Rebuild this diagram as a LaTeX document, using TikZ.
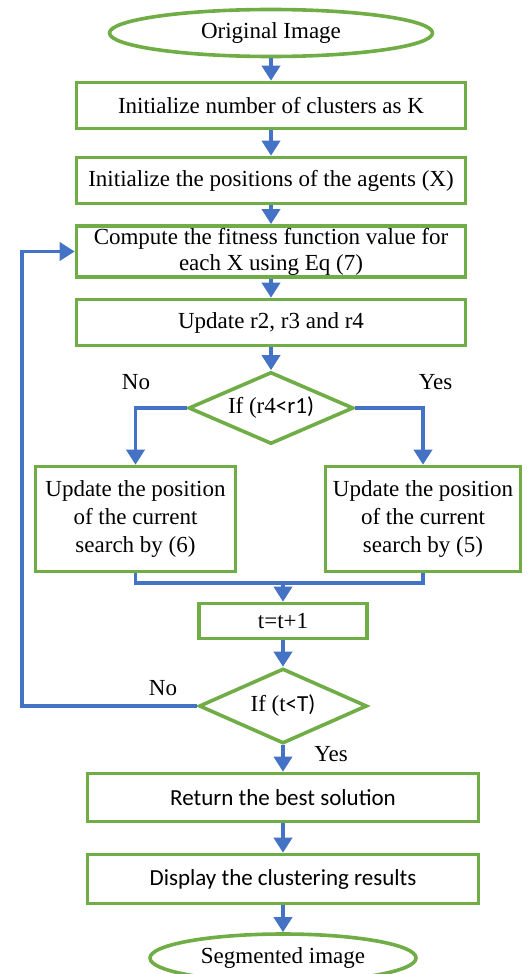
\documentclass[tikz,border=0pt]{standalone}
\usepackage{fontspec}
\setmainfont{Liberation Serif}
\setsansfont{Carlito}
\usetikzlibrary{arrows.meta,positioning,shapes.geometric}
\usepackage{xcolor}
\definecolor{boxgreen}{HTML}{70AD47}
\definecolor{linkblue}{HTML}{4472C4}
\newcommand{\flowfont}{\fontsize{23}{26}\selectfont}

\begin{document}
\begin{tikzpicture}[x=1pt, y=-1pt, every node/.style={font=\flowfont}]
\tikzset{proc/.style={draw=boxgreen, line width=3.6pt, rectangle, minimum width=389pt, minimum height=46pt, inner sep=2pt, align=center}}
\tikzset{term/.style={draw=boxgreen, line width=3.6pt, ellipse, inner sep=0pt}}
\tikzset{decide/.style={draw=boxgreen, line width=3.6pt, diamond, aspect=2.2, inner sep=0pt, minimum width=165pt, minimum height=72pt}}
\tikzset{link/.style={draw=linkblue, line width=3.6pt}}
\tikzset{arr/.style={link, -{Triangle[width=18pt,length=15pt]}}}
\useasboundingbox (0,0) rectangle (531,974);
\node[term, minimum width=323pt, minimum height=47pt] (start) at (271,33) {Original Image};
\node[proc] (b1) at (271,105.5) {Initialize number of clusters as K};
\node[proc] (b2) at (271,180.5) {Initialize the positions of the agents (X)};
\node[proc, minimum height=50pt] (b3) at (271,251.5) {Compute the fitness function value for\\each X using Eq (7)};
\node[proc] (b4) at (271,322.5) {Update r2, r3 and r4};
\node[decide] (d1) at (271,408) {If (r4{\sffamily<r1)}};
\node[proc, minimum width=200pt, minimum height=105pt, font=\fontsize{23}{28}\selectfont] (b5) at (135.5,519) {Update the position\\of the current\\search by (6)};
\node[proc, minimum width=195pt, minimum height=105pt, font=\fontsize{23}{28}\selectfont] (b6) at (423,519) {Update the position\\of the current\\search by (5)};
\node[proc, minimum width=168pt, minimum height=35pt] (b7) at (283,621) {t=t+1};
\node[decide, minimum width=168pt, minimum height=75pt] (d2) at (283,706) {If (t{\sffamily<T)}};
\node[proc, minimum width=391pt, minimum height=48pt, font=\sffamily\flowfont] (b8) at (283,797.5) {Return the best solution};
\node[proc, minimum width=391pt, minimum height=49pt, font=\sffamily\flowfont] (b9) at (283,879) {Display the clustering results};
\node[term, minimum width=266pt, minimum height=48pt] (stop) at (283,958) {Segmented image};
% branch labels
\node (no1) at (136,382) {No};
\node (yes1) at (435.5,382) {Yes};
\node (no2) at (163,688) {No};
\node (yes2) at (331,754) {Yes};
\coordinate (m) at (283,583);
\coordinate (back) at (22,706);
\draw[arr] (start) -- (b1);
\draw[arr] (b1) -- (b2);
\draw[arr] (b2) -- (b3);
\draw[arr] (b3) -- (b4);
\draw[arr] (b4) -- (d1);
\draw[arr] (d1.west) -| (b5.north);
\draw[arr] (d1.east) -| (b6.north);
\draw[link] (b5.south) |- (m) -| (b6.south);
\draw[arr] (m) -- (b7);
\draw[arr] (b7) -- (d2);
\draw[arr] (d2.west) -- (back) |- (b3.west);
\draw[arr] (d2) -- (b8);
\draw[arr] (b8) -- (b9);
\draw[arr] (b9) -- (stop);
\end{tikzpicture}
\end{document}
